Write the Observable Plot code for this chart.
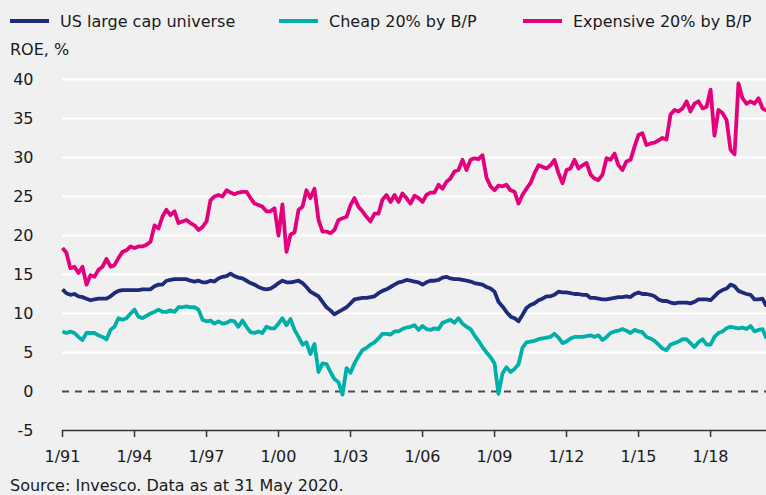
<!DOCTYPE html>
<html>
<head>
<meta charset="utf-8">
<script src="https://cdn.jsdelivr.net/npm/d3@7"></script>
<script src="https://cdn.jsdelivr.net/npm/@observablehq/plot@0.6"></script>
<style>
  html, body { margin: 0; padding: 0; background: #f0f0f0; }
  #wrap { position: relative; width: 766px; height: 495px; background: #f0f0f0; overflow: hidden;
          font-family: "DejaVu Sans", Verdana, sans-serif; color: #1a1a1a; }
  .leg { position: absolute; top: 11px; height: 20px; display: flex; align-items: center; font-size: 16px; white-space: nowrap; }
  .sw { display: inline-block; width: 39px; height: 4px; margin-right: 11px; }
  #ylab { position: absolute; left: 10px; top: 40px; font-size: 16px; line-height: 20px; }
  #chart { position: absolute; left: 0; top: 62px; }
  #cap { position: absolute; left: 10px; top: 476px; font-size: 16px; line-height: 20px; white-space: nowrap; }
</style>
</head>
<body>
<div id="wrap">
  <div id="legend"></div>
  <div id="ylab">ROE, %</div>
  <div id="chart"></div>
  <div id="cap">Source: Invesco. Data as at 31 May 2020.</div>
</div>
<script>
// Series names and colours
const seriesNames = ["US large cap universe", "Cheap 20% by B/P", "Expensive 20% by B/P"];
const seriesColors = ["#1f2a7a", "#00b0a8", "#e4007c"];
const legendLeft = [10, 279, 523];

// Bimonthly observations (Jan, Mar, May, Jul, Sep, Nov), Jan 1991 – May 2020
const usLargeCap = [
  13.1, 12.6, 12.4, 12.5, 12.2, 12.1,   // 1991
  11.9, 11.7, 11.8, 11.9, 11.9, 11.9,   // 1992
  12.2, 12.6, 12.9, 13.0, 13.0, 13.0,   // 1993
  13.0, 13.0, 13.1, 13.1, 13.1, 13.5,   // 1994
  13.7, 13.7, 14.2, 14.3, 14.4, 14.4,   // 1995
  14.4, 14.4, 14.2, 14.1, 14.2, 14.0,   // 1996
  14.0, 14.2, 14.1, 14.5, 14.7, 14.8,   // 1997
  15.1, 14.8, 14.6, 14.5, 14.2, 13.9,   // 1998
  13.7, 13.4, 13.2, 13.1, 13.2, 13.5,   // 1999
  13.9, 14.2, 14.0, 14.0, 14.1, 14.2,   // 2000
  13.9, 13.4, 12.8, 12.5, 12.2, 11.5,   // 2001
  10.8, 10.4, 9.9, 10.2, 10.5, 10.8,    // 2002
  11.3, 11.8, 11.9, 12.0, 12.0, 12.1,   // 2003
  12.2, 12.6, 12.9, 13.1, 13.4, 13.7,   // 2004
  14.0, 14.1, 14.3, 14.2, 14.1, 14.0,   // 2005
  13.7, 14.0, 14.2, 14.2, 14.3, 14.6,   // 2006
  14.7, 14.5, 14.4, 14.4, 14.3, 14.2,   // 2007
  14.1, 13.9, 13.8, 13.7, 13.4, 13.2,   // 2008
  12.8, 11.5, 10.9, 10.2, 9.6, 9.4,     // 2009
  9.0, 9.8, 10.7, 11.1, 11.3, 11.7,     // 2010
  11.9, 12.2, 12.2, 12.4, 12.8, 12.7,   // 2011
  12.7, 12.6, 12.5, 12.5, 12.4, 12.4,   // 2012
  12.0, 12.0, 11.9, 11.8, 11.8, 11.9,   // 2013
  12.0, 12.1, 12.1, 12.2, 12.1, 12.5,   // 2014
  12.7, 12.5, 12.5, 12.4, 12.2, 11.8,   // 2015
  11.6, 11.6, 11.4, 11.3, 11.4, 11.4,   // 2016
  11.4, 11.3, 11.5, 11.8, 11.8, 11.8,   // 2017
  11.7, 12.2, 12.7, 13.0, 13.2, 13.7,   // 2018
  13.5, 12.9, 12.7, 12.5, 12.4, 11.8,   // 2019
  11.8, 11.9, 10.9                      // 2020
];
const cheap = [
  7.7, 7.5, 7.7, 7.5, 7.0, 6.6,         // 1991
  7.5, 7.5, 7.5, 7.2, 7.0, 6.7,         // 1992
  7.9, 8.3, 9.4, 9.2, 9.4, 10.0,        // 1993
  10.5, 9.6, 9.4, 9.7, 10.0, 10.2,      // 1994
  10.5, 10.2, 10.2, 10.4, 10.2, 10.8,   // 1995
  10.8, 10.9, 10.8, 10.8, 10.5, 9.2,    // 1996
  9.0, 9.1, 8.7, 9.0, 8.7, 8.8,         // 1997
  9.1, 9.0, 8.3, 9.1, 8.3, 7.6,         // 1998
  7.5, 7.7, 7.5, 8.3, 8.1, 8.1,         // 1999
  8.7, 9.4, 8.5, 9.3, 7.9, 7.0,         // 2000
  6.0, 6.3, 4.8, 6.1, 2.5, 3.6,         // 2001
  3.5, 2.5, 1.6, 1.2, -0.4, 3.0,        // 2002
  2.4, 3.6, 4.5, 5.3, 5.6, 6.0,         // 2003
  6.3, 6.8, 7.4, 7.4, 7.3, 7.7,         // 2004
  7.7, 8.0, 8.2, 8.3, 8.5, 7.9,         // 2005
  8.4, 8.0, 7.9, 8.1, 8.0, 8.8,         // 2006
  9.0, 9.2, 8.8, 9.4, 8.7, 8.3,         // 2007
  8.0, 7.2, 6.5, 5.7, 5.0, 4.4,         // 2008
  3.6, -0.3, 2.3, 3.1, 2.5, 2.9,        // 2009
  3.5, 5.6, 6.3, 6.4, 6.5, 6.7,         // 2010
  6.8, 6.9, 7.0, 7.4, 6.9, 6.2,         // 2011
  6.4, 6.8, 7.0, 7.0, 7.0, 7.1,         // 2012
  7.2, 7.0, 7.2, 6.6, 7.0, 7.5,         // 2013
  7.7, 7.8, 8.0, 7.8, 7.5, 7.9,         // 2014
  7.7, 7.6, 7.0, 6.8, 6.5, 6.0,         // 2015
  5.5, 5.3, 6.0, 6.2, 6.4, 6.7,         // 2016
  6.7, 6.2, 5.7, 6.3, 6.7, 6.0,         // 2017
  6.0, 7.0, 7.5, 7.7, 8.1, 8.3,         // 2018
  8.2, 8.1, 8.2, 8.0, 8.4, 7.7,         // 2019
  7.9, 8.0, 6.8                         // 2020
];
const expensive = [
  18.4, 17.8, 15.8, 16.0, 15.2, 16.0,   // 1991
  13.7, 14.9, 14.7, 15.6, 16.0, 17.0,   // 1992
  16.0, 16.2, 17.1, 17.9, 18.1, 18.6,   // 1993
  18.4, 18.6, 18.6, 18.8, 19.2, 21.3,   // 1994
  20.9, 22.4, 23.3, 22.6, 23.1, 21.6,   // 1995
  21.8, 22.0, 21.6, 21.3, 20.7, 21.1,   // 1996
  21.8, 24.5, 25.0, 25.2, 25.0, 25.8,   // 1997
  25.5, 25.3, 25.5, 25.6, 25.6, 24.8,   // 1998
  24.1, 23.9, 23.7, 23.1, 23.1, 23.5,   // 1999
  20.0, 24.0, 17.9, 20.1, 20.4, 23.3,   // 2000
  23.7, 25.8, 24.8, 26.0, 22.0, 20.5,   // 2001
  20.5, 20.3, 20.7, 22.0, 22.2, 22.4,   // 2002
  23.9, 24.8, 23.7, 23.1, 22.4, 21.8,   // 2003
  22.8, 22.8, 24.6, 25.2, 24.3, 25.2,   // 2004
  24.3, 25.4, 24.8, 24.1, 25.1, 24.8,   // 2005
  24.3, 25.2, 25.5, 25.5, 26.5, 26.0,   // 2006
  26.9, 27.3, 28.2, 28.4, 29.7, 28.4,   // 2007
  29.7, 29.9, 29.8, 30.3, 27.4, 26.3,   // 2008
  25.8, 26.4, 26.3, 26.5, 25.8, 25.6,   // 2009
  24.1, 25.2, 26.0, 26.7, 28.0, 29.0,   // 2010
  28.8, 28.6, 29.0, 29.7, 28.0, 26.7,   // 2011
  28.4, 28.6, 29.7, 28.6, 29.0, 29.3,   // 2012
  27.8, 27.3, 27.1, 27.8, 29.9, 29.7,   // 2013
  30.5, 29.0, 28.4, 29.5, 29.7, 31.4,   // 2014
  32.9, 33.1, 31.6, 31.8, 31.9, 32.2,   // 2015
  32.5, 32.3, 35.5, 36.1, 35.9, 36.3,   // 2016
  37.2, 35.9, 36.9, 37.2, 36.3, 36.5,   // 2017
  38.7, 32.8, 36.1, 35.7, 34.8, 31.0,   // 2018
  30.4, 39.5, 37.6, 36.9, 37.2, 36.9,   // 2019
  37.6, 36.3, 36.0                      // 2020
];

// Axis ticks
const yTicks = [-5, 0, 5, 10, 15, 20, 25, 30, 35, 40];
const gridValues = [5, 10, 15, 20, 25, 30, 35, 40];
const xTickYears = [1991, 1994, 1997, 2000, 2003, 2006, 2009, 2012, 2015, 2018];

// Build table
const seriesValues = [usLargeCap, cheap, expensive];
const dateAt = (i) => new Date(Date.UTC(1991, 2 * i, 1));
const rows = seriesValues.map((vals, s) => vals.map((v, i) => ({date: dateAt(i), value: v, series: seriesNames[s]})));

// Legend
const legend = document.getElementById("legend");
seriesNames.forEach((name, i) => {
  const item = document.createElement("div");
  item.className = "leg";
  item.style.left = legendLeft[i] + "px";
  const sw = document.createElement("span");
  sw.className = "sw";
  sw.style.background = seriesColors[i];
  item.appendChild(sw);
  item.appendChild(document.createTextNode(name));
  legend.appendChild(item);
});

const chart = Plot.plot({
  width: 766,
  height: 410,
  marginLeft: 62,
  marginRight: 0,
  marginTop: 17,
  marginBottom: 42,
  style: {background: "transparent", fontFamily: "'DejaVu Sans', Verdana, sans-serif", fontSize: "16px", color: "#1a1a1a", overflow: "visible"},
  x: {type: "utc", domain: [new Date(Date.UTC(1991, 0, 1)), new Date(Date.UTC(2020, 4, 1))]},
  y: {domain: [-5, 40]},
  marks: [
    Plot.ruleY(gridValues, {stroke: "#ffffff", strokeWidth: 2}),
    Plot.ruleY([0], {stroke: "#4a4a4a", strokeWidth: 2, strokeDasharray: "7,6"}),
    ...rows.map((r, s) => Plot.line(r, {x: "date", y: "value", stroke: seriesColors[s], strokeWidth: 3.8, strokeLinejoin: "round", strokeLinecap: "butt"})),
    Plot.ruleY([-5], {stroke: "#333333", strokeWidth: 1.5}),
    Plot.axisY({ticks: yTicks, tickSize: 0, tickPadding: 29, label: null, tickFormat: (d) => String(d)}),
    Plot.axisX({ticks: xTickYears.map((y) => new Date(Date.UTC(y, 0, 1))), tickFormat: d3.utcFormat("%-m/%y"), tickSize: 7, tickPadding: 13, label: null, stroke: "#333333", strokeWidth: 1.5})
  ]
});
document.getElementById("chart").appendChild(chart);
</script>
</body>
</html>
